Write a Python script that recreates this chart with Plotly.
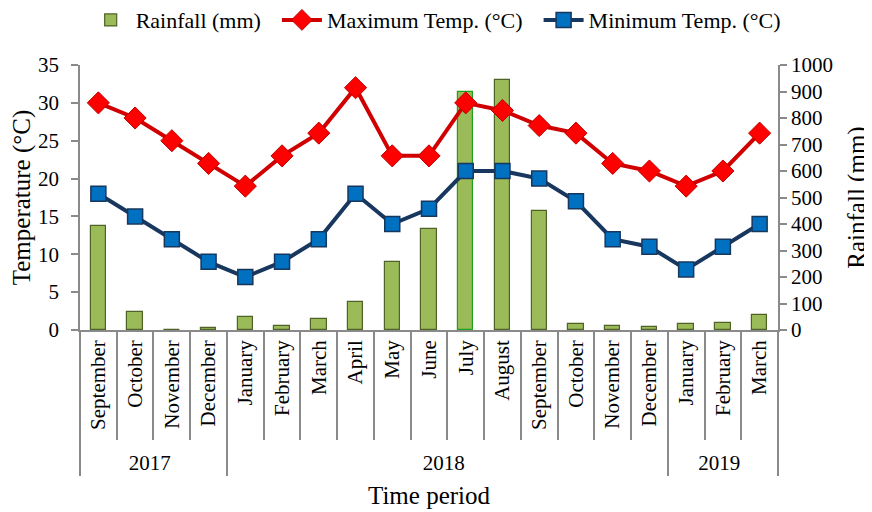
import plotly.graph_objects as go

ZW = "\u200b"  # zero-width marker keeps repeated month names distinct within the multicategory axis
years = ["2017"] * 4 + ["2018"] * 12 + ["2019"] * 3
months = ["September", "October", "November", "December",
          "January", "February", "March", "April", "May", "June", "July", "August",
          "September" + ZW, "October" + ZW, "November" + ZW, "December" + ZW,
          "January", "February", "March"]
rainfall = [392, 68, 0, 9, 50, 15, 40, 104, 258, 380, 900, 945, 450, 22, 15, 11, 23, 28, 55]
max_temp = [30, 28, 25, 22, 19, 23, 26, 32, 23, 23, 30, 29, 27, 26, 22, 21, 19, 21, 26]
min_temp = [18, 15, 12, 9, 7, 9, 12, 18, 14, 16, 21, 21, 20, 17, 12, 11, 8, 11, 14]

FONT = "Liberation Serif"
AX = "#8a8a8a"
PAD = "\u00a0" * 2

bar_lines = ["#4F6228"] * len(rainfall)
bar_lines[10] = "#1FA01F"

fig = go.Figure()
fig.add_trace(go.Bar(
    x=[years, months], y=rainfall, name="Rainfall (mm)" + PAD,
    marker=dict(color="#9BBB59", line=dict(color=bar_lines, width=1.2)),
    width=0.42, yaxis="y"))
fig.add_trace(go.Scatter(
    x=[years, months], y=max_temp, name="Maximum Temp. (°C)" + PAD, mode="lines+markers",
    line=dict(color="#D00000", width=4),
    marker=dict(symbol="diamond", size=17, color="#FF0000", line=dict(color="#C00000", width=1)),
    yaxis="y2"))
fig.add_trace(go.Scatter(
    x=[years, months], y=min_temp, name="Minimum Temp. (°C)", mode="lines+markers",
    line=dict(color="#17375E", width=4),
    marker=dict(symbol="square", size=15, color="#0070C0", line=dict(color="#17375E", width=1.5)),
    yaxis="y2"))

fig.update_layout(
    width=864, height=504,
    margin=dict(l=72, r=94, t=57, b=182),
    paper_bgcolor="white", plot_bgcolor="white",
    font=dict(family=FONT, size=21, color="black"),
    showlegend=True,
    legend=dict(orientation="h", x=0.495, xanchor="center", xref="container",
                y=0.976, yanchor="middle", yref="container",
                font=dict(size=22), itemwidth=40, tracegroupgap=0),
    bargap=0,
    xaxis=dict(
        type="multicategory", range=[-0.5, len(months) - 0.5],
        showline=True, linecolor=AX, linewidth=1.5,
        ticks="outside", ticklen=108, tickcolor=AX, tickwidth=1.5, tickson="boundaries",
        tickangle=-90, showdividers=True, dividercolor=AX, dividerwidth=1.5,
        showgrid=False, zeroline=False, automargin=False,
        title=dict(text="Time period", standoff=12),
        tickfont=dict(size=21)),
    yaxis=dict(
        title=dict(text="Rainfall (mm)", standoff=16), side="right",
        range=[0, 1000], dtick=100, showline=True, linecolor=AX, linewidth=1.5,
        ticks="outside", ticklen=7, tickcolor=AX, tickwidth=1.5,
        showgrid=False, zeroline=False, automargin=False),
    yaxis2=dict(
        title=dict(text="Temperature (°C)", standoff=6), side="left", overlaying="y",
        range=[0, 35], dtick=5, showline=True, linecolor=AX, linewidth=1.5,
        ticks="outside", ticklen=7, tickcolor=AX, tickwidth=1.5, ticklabelstandoff=8,
        showgrid=False, zeroline=False, automargin=False),
)

fig.write_html("out.html")
